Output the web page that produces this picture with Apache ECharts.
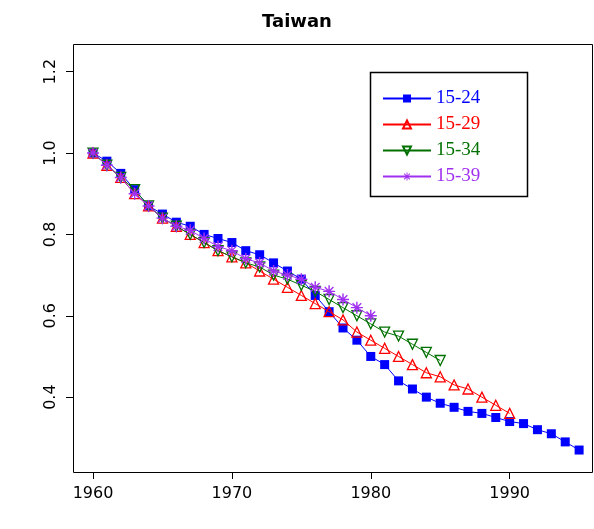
<!DOCTYPE html>
<html><head><meta charset="utf-8">
<script src="https://cdn.jsdelivr.net/npm/echarts@6/dist/echarts.min.js"></script>
<style>html,body{margin:0;padding:0;background:#fff}#chart-container{width:594px;height:529px}</style>
</head><body><div id="chart-container"></div>
<script>
var dom = document.getElementById('chart-container');
var myChart = echarts.init(dom, null, { renderer: 'canvas' });

var years = [];
for (var y = 1960; y <= 1995; y++) years.push(y);
var s1524 = [1.0,0.98,0.95,0.91,0.87,0.85,0.83,0.82,0.80,0.79,0.78,0.76,0.75,0.73,0.71,0.69,0.65,0.61,0.57,0.54,0.50,0.48,0.44,0.42,0.40,0.385,0.375,0.365,0.36,0.35,0.34,0.335,0.32,0.31,0.29,0.27];
var s1529 = [1.0,0.97,0.94,0.90,0.87,0.84,0.82,0.80,0.78,0.76,0.745,0.73,0.71,0.69,0.67,0.65,0.63,0.61,0.59,0.56,0.54,0.52,0.50,0.48,0.46,0.45,0.43,0.42,0.40,0.38,0.36];
var s1534 = [1.0,0.97,0.94,0.91,0.87,0.84,0.82,0.80,0.78,0.76,0.745,0.73,0.72,0.70,0.69,0.675,0.66,0.64,0.62,0.60,0.58,0.56,0.55,0.53,0.51,0.49];
var s1539 = [1.0,0.97,0.94,0.90,0.87,0.84,0.82,0.81,0.79,0.77,0.76,0.74,0.73,0.71,0.70,0.69,0.67,0.66,0.64,0.62,0.60];
var names = ['15-24','15-29','15-34','15-39'];
var colors = ['#0000ff','#ff0000','#007000','#a030f0'];
var xTicks = [1960,1970,1980,1990];
var yTicks = [0.4,0.6,0.8,1.0,1.2];

function pairs(vals) { return vals.map(function (v, i) { return [years[i], v]; }); }

var star = 'path://M4.4,0H5.6V10H4.4Z M0,4.4H10V5.6H0Z ' +
  'M1,1.8L1.8,1L9,8.2L8.2,9Z M8.2,1L9,1.8L1.8,9L1,8.2Z';
var symbols = ['rect', 'triangle', 'path://M0,0L10,0L5,9Z', star];
var sizes = [9, 10, 10, 12];
var allData = [s1524, s1529, s1534, s1539];

var series = allData.map(function (d, i) {
  return {
    name: names[i],
    type: 'line',
    data: pairs(d),
    lineStyle: { width: 1, color: colors[i] },
    symbol: symbols[i],
    symbolSize: sizes[i],
    showAllSymbol: true,
    itemStyle: (i === 0 || i === 3) ? { color: colors[i] } :
      { color: 'rgba(255,255,255,0)', borderColor: colors[i], borderWidth: 1.3 },
    z: 2 + i
  };
});

var option = {
  animation: false,
  title: { text: 'Taiwan', left: 'center', top: 8,
    textStyle: { fontFamily: 'DejaVu Sans', fontWeight: 'bold', fontSize: 18, color: '#000' } },
  grid: { left: 73, top: 44, right: 1, bottom: 57 },
  xAxis: {
    type: 'value', min: 1958.56, max: 1996,
    axisLine: { show: false },
    axisTick: { show: true, customValues: xTicks, length: 7, lineStyle: { color: '#000' } },
    axisLabel: { customValues: xTicks, color: '#000', fontSize: 16, fontFamily: 'DejaVu Sans', margin: 14,
      formatter: function (v) { return String(v); } },
    splitLine: { show: false }
  },
  yAxis: {
    type: 'value', min: 0.216, max: 1.268,
    axisLine: { show: false },
    axisTick: { show: true, customValues: yTicks, length: 7, lineStyle: { color: '#000' } },
    axisLabel: { customValues: yTicks, color: '#000', fontSize: 16, fontFamily: 'DejaVu Sans', rotate: 90, margin: 14,
      formatter: function (v) { return v.toFixed(1); } },
    splitLine: { show: false }
  },
  legend: {
    orient: 'vertical', left: 377, top: 84, itemGap: 7, itemWidth: 48, itemHeight: 10,
    data: names.map(function (n, i) {
      return { name: n, textStyle: { color: colors[i] } };
    }),
    textStyle: { fontFamily: 'Liberation Serif', fontSize: 19 }
  },
  graphic: [
    { type: 'rect', shape: { x: 73.5, y: 44.5, width: 519, height: 428 }, style: { fill: 'none', stroke: '#000', lineWidth: 1 }, silent: true },
    { type: 'rect', shape: { x: 370.5, y: 72.5, width: 157, height: 124 }, style: { fill: 'none', stroke: '#000', lineWidth: 1.5 }, silent: true }
  ],
  series: series
};

myChart.setOption(option);
window.addEventListener('resize', myChart.resize);
</script></body></html>
